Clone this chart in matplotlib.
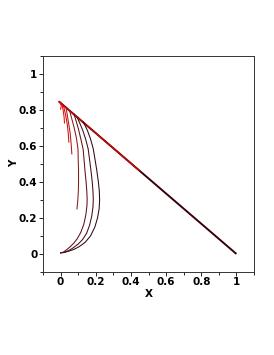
import numpy as np
import matplotlib
matplotlib.use("Agg")
import matplotlib.pyplot as plt
from matplotlib.ticker import MultipleLocator

# trajectories (x, y)
curve_e_x = [0.0, 0.02, 0.045, 0.075, 0.105, 0.14, 0.17, 0.195, 0.21, 0.219,
             0.222, 0.22, 0.215, 0.205, 0.195, 0.186, 0.17, 0.152, 0.138, 0.128]
curve_e_y = [0.006, 0.008, 0.015, 0.025, 0.04, 0.065, 0.1, 0.15, 0.2, 0.25,
             0.3, 0.35, 0.4, 0.47, 0.53, 0.583, 0.64, 0.688, 0.716, 0.733]
curve_d_x = [0.0, 0.02, 0.045, 0.07, 0.1, 0.125, 0.148, 0.165, 0.177, 0.184,
             0.186, 0.184, 0.18, 0.172, 0.164, 0.157, 0.142, 0.125, 0.11, 0.095]
curve_d_y = [0.006, 0.009, 0.018, 0.033, 0.055, 0.08, 0.115, 0.16, 0.21, 0.26,
             0.306, 0.35, 0.4, 0.47, 0.53, 0.583, 0.64, 0.69, 0.725, 0.758]
curve_c_x = [0.0, 0.015, 0.03, 0.05, 0.075, 0.095, 0.115, 0.132, 0.144, 0.15,
             0.151, 0.149, 0.145, 0.138, 0.133, 0.128, 0.115, 0.1, 0.088, 0.076]
curve_c_y = [0.006, 0.01, 0.02, 0.036, 0.06, 0.085, 0.12, 0.165, 0.22, 0.27,
             0.306, 0.35, 0.4, 0.47, 0.53, 0.583, 0.64, 0.7, 0.74, 0.778]
curve_b_x = [0.093, 0.098, 0.101, 0.102, 0.102, 0.1, 0.099, 0.09, 0.076, 0.064, 0.052]
curve_b_y = [0.25, 0.3, 0.35, 0.4, 0.47, 0.53, 0.583, 0.645, 0.706, 0.75, 0.794]
curve_a_x = [0.064, 0.06, 0.055, 0.049, 0.04, 0.032]
curve_a_y = [0.556, 0.61, 0.667, 0.706, 0.76, 0.806]
curve_h_x = [0.047, 0.044, 0.038, 0.028, 0.017]
curve_h_y = [0.622, 0.665, 0.72, 0.775, 0.822]
curve_g_x = [0.022, 0.02, 0.016, 0.009]
curve_g_y = [0.728, 0.76, 0.789, 0.828]
curve_i_x = [0.0, 0.004, -0.004]
curve_i_y = [0.805, 0.825, 0.842]

# the straight line everything runs into
line_x = [-0.01, 1.0]
line_y = [0.848, 0.0]
line_red_x = [-0.012, 0.45]
line_red_y = [0.85, 0.462]

curves = [
    (curve_e_x, curve_e_y, '#2a0a18'),
    (curve_d_x, curve_d_y, '#420c18'),
    (curve_c_x, curve_c_y, '#5e1018'),
    (curve_b_x, curve_b_y, '#8a1a1a'),
    (curve_a_x, curve_a_y, '#b01818'),
    (curve_h_x, curve_h_y, '#cc1010'),
    (curve_g_x, curve_g_y, '#e00a0a'),
    (curve_i_x, curve_i_y, '#ee0000'),
]

fig = plt.figure(figsize=(2.74, 3.55), dpi=100)
ax = fig.add_axes([0.157, 0.234, 0.770, 0.608])

ax.plot(line_x, line_y, color='#3a0008', lw=1.4, solid_capstyle='butt')
ax.plot(line_red_x, line_red_y, color='#e00000', lw=0.9, solid_capstyle='butt')
for cx, cy, col in curves:
    ax.plot(cx, cy, color=col, lw=0.75)

ax.set_xlim(-0.1, 1.1)
ax.set_ylim(-0.1, 1.1)
ax.xaxis.set_minor_locator(MultipleLocator(0.1))
ax.yaxis.set_minor_locator(MultipleLocator(0.1))
ax.set_xticks([0, 0.2, 0.4, 0.6, 0.8, 1])
ax.set_xticklabels(['0', '0.2', '0.4', '0.6', '0.8', '1'])
ax.set_yticks([0, 0.2, 0.4, 0.6, 0.8, 1])
ax.set_yticklabels(['0', '0.2', '0.4', '0.6', '0.8', '1'])

ax.tick_params(which='major', direction='out', length=3, width=0.6, pad=1,
               labelsize=7.5, colors='black')
ax.tick_params(which='minor', direction='out', length=2, width=0.6)
for lab in ax.get_xticklabels() + ax.get_yticklabels():
    lab.set_fontweight('bold')
for sp in ax.spines.values():
    sp.set_linewidth(0.7)
    sp.set_color('#333333')

ax.set_xlabel('X', fontsize=7.5, fontweight='bold', labelpad=1)
ax.set_ylabel('Y', fontsize=7.5, fontweight='bold')
ax.yaxis.set_label_coords(-0.115, 0.505)

fig.savefig('out.png', dpi=100)
